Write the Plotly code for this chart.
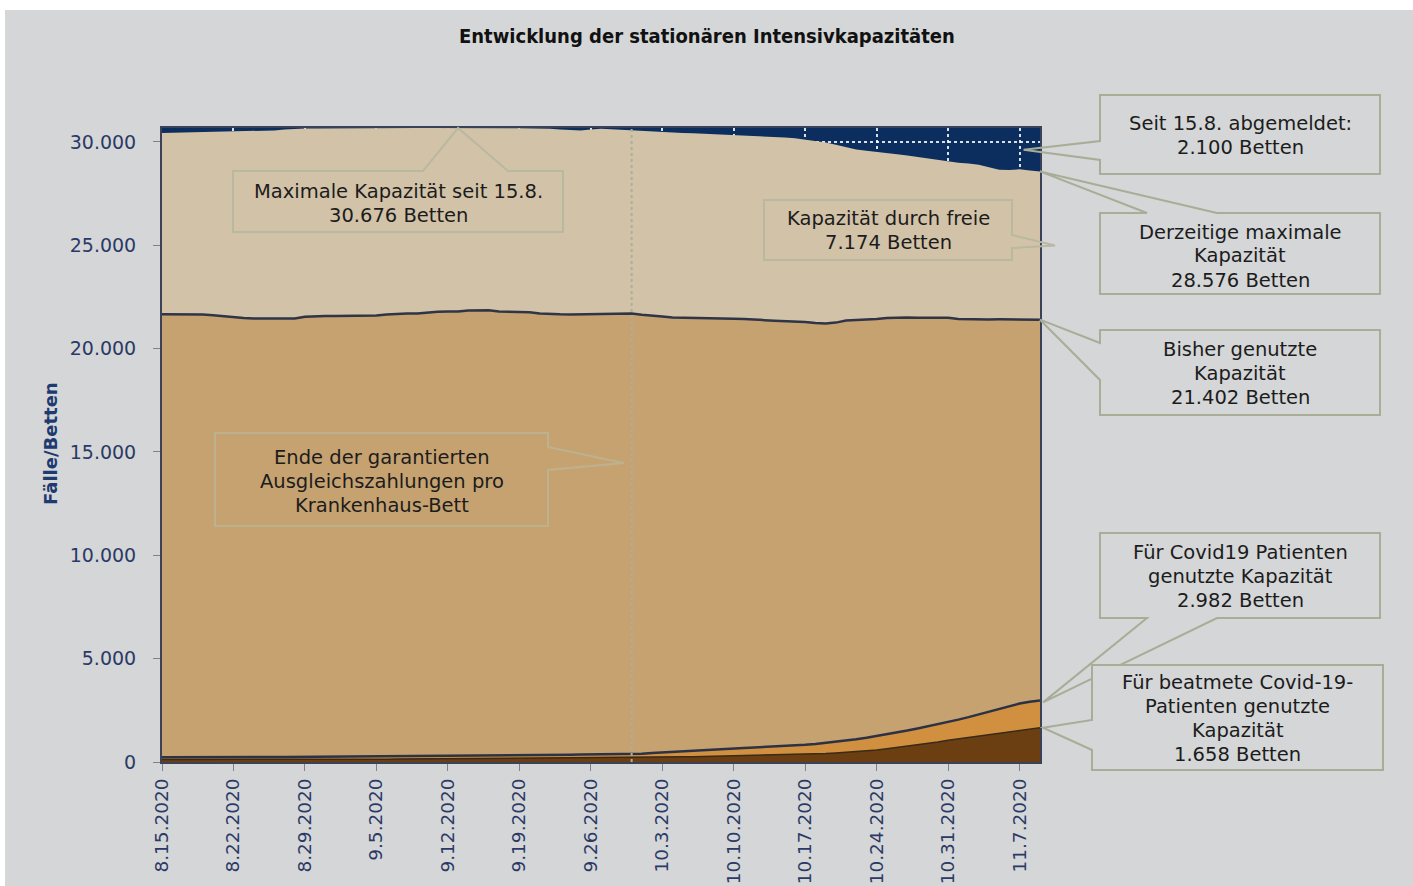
import pandas as pd
import plotly.graph_objects as go

# ---- data -------------------------------------------------------------
dates = pd.date_range("2020-08-15", "2020-11-09", freq="D")

# maximal verfügbare Intensivbetten (aktuell gemeldet)
capacity = [
    30430, 30440, 30450, 30470, 30480, 30490, 30500,
    30510, 30520, 30520, 30530, 30560, 30600, 30640,
    30650, 30655, 30660, 30660, 30665, 30660, 30665,
    30668, 30665, 30670, 30668, 30672, 30670, 30674,
    30672, 30676, 30674, 30672, 30670, 30668, 30665,
    30662, 30660, 30655, 30640, 30600, 30570, 30560,
    30600, 30640, 30620, 30590, 30560, 30530, 30500,
    30480, 30460, 30440, 30420, 30400, 30370, 30350,
    30340, 30320, 30300, 30280, 30250, 30220, 30180,
    30120, 30060, 29980, 29860, 29740, 29640, 29580,
    29530, 29460, 29400, 29340, 29270, 29200, 29140,
    29060, 29000, 28960, 28900, 28780, 28660, 28640,
    28680, 28620, 28576,
]

# belegte Intensivbetten insgesamt
used = [
    21660, 21665, 21660, 21655, 21650, 21620, 21570,
    21520, 21480, 21460, 21450, 21445, 21450, 21455,
    21540, 21575, 21580, 21585, 21580, 21575, 21580,
    21600, 21650, 21690, 21695, 21700, 21760, 21790,
    21795, 21800, 21850, 21870, 21860, 21800, 21790,
    21785, 21760, 21700, 21670, 21660, 21655, 21660,
    21665, 21690, 21710, 21705, 21700, 21640, 21610,
    21560, 21510, 21500, 21495, 21500, 21495, 21490,
    21450, 21430, 21420, 21380, 21350, 21340, 21335,
    21290, 21240, 21220, 21260, 21360, 21390, 21395,
    21430, 21480, 21500, 21505, 21500, 21500, 21505,
    21490, 21440, 21420, 21420, 21415, 21420, 21418,
    21415, 21410, 21402,
]

# davon Covid-19-Patienten
covid = [
    225, 223, 228, 230, 232, 234, 236,
    238, 240, 236, 238, 240, 245, 248,
    240, 242, 245, 250, 255, 260, 265,
    262, 258, 262, 268, 275, 280, 285,
    290, 285, 288, 295, 300, 305, 312,
    318, 315, 320, 330, 340, 350, 360,
    362, 365, 360, 362, 370, 400, 440,
    470, 490, 510, 530, 560, 590, 620,
    650, 680, 700, 720, 750, 780, 800,
    830, 870, 920, 970, 1030, 1100, 1170,
    1250, 1330, 1420, 1520, 1620, 1720, 1820,
    1930, 2050, 2170, 2300, 2420, 2550, 2680,
    2830, 2920, 2982,
]

# davon beatmet
ventilated = [
    125, 124, 126, 128, 127, 128, 130,
    130, 131, 129, 128, 130, 132, 134,
    130, 131, 133, 135, 138, 140, 142,
    140, 138, 140, 143, 146, 148, 150,
    152, 150, 152, 155, 158, 162, 165,
    168, 166, 170, 175, 180, 185, 190,
    192, 195, 193, 195, 200, 210, 225,
    235, 240, 248, 255, 265, 275, 285,
    295, 305, 315, 325, 335, 345, 355,
    365, 385, 410, 440, 470, 505, 540,
    580, 640, 700, 760, 830, 900, 970,
    1050, 1120, 1190, 1260, 1330, 1400, 1470,
    1550, 1610, 1658,
]

tick_dates = pd.date_range("2020-08-15", "2020-11-07", freq="7D")
tick_labels = ["8.15.2020", "8.22.2020", "8.29.2020", "9.5.2020", "9.12.2020",
               "9.19.2020", "9.26.2020", "10.3.2020", "10.10.2020", "10.17.2020",
               "10.24.2020", "10.31.2020", "11.7.2020"]
y_ticks = [0, 5000, 10000, 15000, 20000, 25000, 30000]
payment_end = "2020-09-30"

max_capacity = max(capacity)
max_day = dates[capacity.index(max_capacity)]

# ---- geometry ---------------------------------------------------------
W, H = 1413, 886
ML, MR, MT, MB = 162, 373, 128, 124
PW, PH = W - ML - MR, H - MT - MB
x_start, x_end = dates[0], dates[-1]

BG = "#D4D6D7"
NAVY = "#0B2E5E"
TEXT = "#1C1C1C"
BOX_LINE = "#A9AC96"
TICK_COLOR = "#2B3966"
FONT = "DejaVu Sans"
LINE_GAP = 24


def to_paper(px, py):
    return (px - ML) / PW, (H - MB - py) / PH


def data_px(day, value):
    frac = (pd.Timestamp(day) - x_start) / (x_end - x_start)
    return ML + frac * PW, H - MB - value / max_capacity * PH


def callout_path(box, side, base, tip):
    x0, y0, x1, y1 = box
    pts = [(x0, y0)]
    if side == "top":
        pts += [(base[0], y0), tip, (base[1], y0)]
    pts.append((x1, y0))
    if side == "right":
        pts += [(x1, base[0]), tip, (x1, base[1])]
    pts.append((x1, y1))
    if side == "bottom":
        pts += [(base[1], y1), tip, (base[0], y1)]
    pts.append((x0, y1))
    if side == "left":
        pts += [(x0, base[1]), tip, (x0, base[0])]
    coords = [to_paper(x, y) for x, y in pts]
    return "M " + " L ".join(f"{a:.5f},{b:.5f}" for a, b in coords) + " Z"


fig = go.Figure()

fig.add_trace(go.Scatter(x=dates, y=capacity, mode="lines", fill="tozeroy",
                         fillcolor="#D2C3A8", line=dict(width=0, color="#D2C3A8"),
                         hoverinfo="skip"))
fig.add_trace(go.Scatter(x=dates, y=used, mode="lines", fill="tozeroy",
                         fillcolor="#C6A271", line=dict(width=2.5, color="#2F3447"),
                         hoverinfo="skip"))
fig.add_trace(go.Scatter(x=dates, y=covid, mode="lines", fill="tozeroy",
                         fillcolor="#D0903F", line=dict(width=2.5, color="#2C3245"),
                         hoverinfo="skip"))
fig.add_trace(go.Scatter(x=dates, y=ventilated, mode="lines", fill="tozeroy",
                         fillcolor="#6B3F12", line=dict(width=1.5, color="#3A2A1A"),
                         hoverinfo="skip"))

shapes = []
annotations = []

# white frame strips at the page's top and left edge
shapes.append(dict(type="rect", xref="paper", yref="paper",
                   x0=to_paper(0, 0)[0], x1=to_paper(W, 0)[0],
                   y0=to_paper(0, 10)[1], y1=to_paper(0, -2)[1],
                   fillcolor="white", line=dict(width=0), layer="above"))
shapes.append(dict(type="rect", xref="paper", yref="paper",
                   x0=to_paper(-2, 0)[0], x1=to_paper(5, 0)[0],
                   y0=to_paper(0, H + 2)[1], y1=to_paper(0, -2)[1],
                   fillcolor="white", line=dict(width=0), layer="above"))

# end of guaranteed compensation payments
shapes.append(dict(type="line", xref="x", yref="paper", x0=payment_end, x1=payment_end,
                   y0=0, y1=1, line=dict(color="#A9B09C", width=2, dash="dot"),
                   layer="above"))

end_day = dates[-1]
x_end_px, y_cap_px = data_px(end_day, capacity[-1])
_, y_used_px = data_px(end_day, used[-1])
_, y_cov_px = data_px(end_day, covid[-1])
_, y_vent_px = data_px(end_day, ventilated[-1])
_, y_max_px = data_px(end_day, max_capacity)
x_max_px, _ = data_px(max_day, max_capacity)
x_week_px, _ = data_px(tick_dates[-1], 0)
x_pay_px, _ = data_px(payment_end, 0)

callouts = [
    # (box, side, wedge base, tip, text lines, first line y, fill, border)
    ((233, 171, 563, 232), "top", (423, 508), (x_max_px, y_max_px),
     ["Maximale Kapazität seit 15.8.", "30.676 Betten"], 191, None, "#B9B8A0"),
    ((764, 200, 1012, 260), "right", (235, 248),
     (x_end_px + 15, (y_cap_px + y_used_px) / 2),
     ["Kapazität durch freie", "7.174 Betten"], 218, None, "#B9B8A0"),
    ((215, 433, 548, 526), "right", (447, 470), (x_pay_px - 8, 463),
     ["Ende der garantierten", "Ausgleichszahlungen pro", "Krankenhaus-Bett"], 457,
     None, "#BDB28E"),
    ((1100, 95, 1380, 174), "left", (141, 160), (x_week_px + 4, (y_max_px + y_cap_px) / 2),
     ["Seit 15.8. abgemeldet:", "2.100 Betten"], 123, None, BOX_LINE),
    ((1100, 213, 1380, 294), "top", (1147, 1217), (x_end_px, y_cap_px),
     ["Derzeitige maximale", "Kapazität", "28.576 Betten"], 232, None, BOX_LINE),
    ((1100, 330, 1380, 415), "left", (343, 380), (x_end_px, y_used_px),
     ["Bisher genutzte", "Kapazität", "21.402 Betten"], 349, None, BOX_LINE),
    ((1100, 533, 1380, 618), "bottom", (1147, 1217), (x_end_px + 3, y_cov_px + 2),
     ["Für Covid19 Patienten", "genutzte Kapazität", "2.982 Betten"], 552, None, BOX_LINE),
    ((1092, 665, 1383, 770), "left", (720, 750), (x_end_px + 3, y_vent_px),
     ["Für beatmete Covid-19-", "Patienten genutzte", "Kapazität", "1.658 Betten"], 682,
     BG, BOX_LINE),
]

for box, side, base, tip, lines, y_first, fill, lc in callouts:
    shapes.append(dict(type="path", xref="paper", yref="paper",
                       path=callout_path(box, side, base, tip),
                       line=dict(color=lc, width=2),
                       fillcolor=fill if fill else "rgba(0,0,0,0)",
                       layer="above"))
    for i, line in enumerate(lines):
        cx, cy = to_paper((box[0] + box[2]) / 2, y_first + i * LINE_GAP)
        annotations.append(dict(xref="paper", yref="paper", x=cx, y=cy,
                                xanchor="center", yanchor="middle", showarrow=False,
                                text=line, font=dict(family=FONT, size=19.5, color=TEXT)))

# title
tx, ty = to_paper(W / 2, 36)
annotations.append(dict(xref="paper", yref="paper", x=tx, y=ty, xanchor="center",
                        yanchor="middle", showarrow=False,
                        text="<b>Entwicklung der stationären Intensivkapazitäten</b>",
                        font=dict(family="DejaVu Sans Condensed, Liberation Sans Narrow, DejaVu Sans",
                                  size=20, color="#111111")))

# y-axis title
ax_x, ax_y = to_paper(50, 443)
annotations.append(dict(xref="paper", yref="paper", x=ax_x, y=ax_y, xanchor="center",
                        yanchor="middle", showarrow=False, textangle=-90,
                        text="<b>Fälle/Betten</b>",
                        font=dict(family=FONT, size=18, color="#1E3A70")))

fig.update_layout(
    width=W, height=H,
    margin=dict(l=ML, r=MR, t=MT, b=MB, pad=0, autoexpand=False),
    paper_bgcolor=BG, plot_bgcolor=NAVY,
    showlegend=False, hovermode=False,
    separators=",.",
    shapes=shapes, annotations=annotations,
    xaxis=dict(type="date", range=[x_start, x_end], tickvals=tick_dates,
               ticktext=tick_labels, tickangle=-90, automargin=False,
               tickfont=dict(family=FONT, size=18.5, color=TICK_COLOR),
               ticks="outside", ticklen=7, tickcolor="#7C8290", ticklabelstandoff=0,
               showgrid=True, gridcolor="rgba(255,255,255,0.85)", gridwidth=1.5,
               griddash="dot", showline=True, linecolor="#3B4258", linewidth=2,
               mirror=True, zeroline=False, fixedrange=True),
    yaxis=dict(range=[0, max_capacity], tickvals=y_ticks, tickformat=",d",
               automargin=False,
               tickfont=dict(family=FONT, size=19, color=TICK_COLOR),
               ticks="outside", ticklen=7, tickcolor="#7C8290", ticklabelstandoff=13,
               showgrid=True, gridcolor="rgba(255,255,255,0.85)", gridwidth=1.5,
               griddash="dot", showline=True, linecolor="#3B4258", linewidth=2,
               mirror=True, zeroline=False, fixedrange=True),
)

fig.write_html("out.html")
